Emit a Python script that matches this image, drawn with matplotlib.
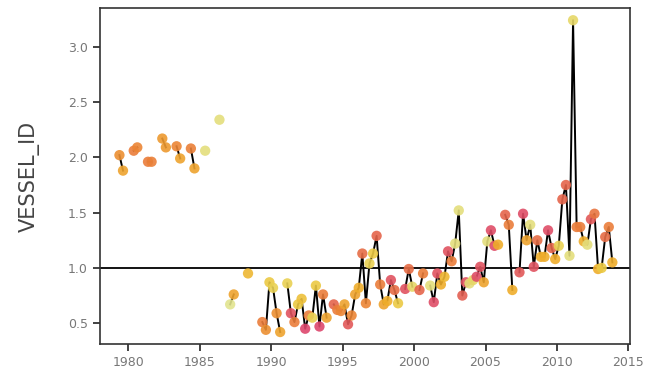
import numpy as np
import pandas as pd
import matplotlib
matplotlib.use("Agg")
import matplotlib.pyplot as plt
from matplotlib.colors import LinearSegmentedColormap

# quarterly observations (missing quarters break the line)
year = [1979, 1979, 1980, 1980, 1981, 1981, 1982, 1982, 1983, 1983,
        1984, 1984, 1985, 1986, 1987, 1987, 1988,
        1989, 1989, 1989, 1990, 1990, 1990,
        1991, 1991, 1991, 1991, 1992, 1992, 1992, 1992,
        1993, 1993, 1993, 1993, 1994, 1994, 1994,
        1995, 1995, 1995, 1995, 1996, 1996, 1996, 1996,
        1997, 1997, 1997, 1997, 1998, 1998, 1998, 1998,
        1999, 1999, 1999, 2000, 2000,
        2001, 2001, 2001, 2001, 2002, 2002, 2002, 2002,
        2003, 2003, 2003, 2003, 2004, 2004, 2004, 2004,
        2005, 2005, 2005, 2005, 2006, 2006, 2006,
        2007, 2007, 2007, 2008, 2008, 2008, 2008,
        2009, 2009, 2009, 2009, 2010, 2010, 2010, 2010,
        2011, 2011, 2011, 2011, 2012, 2012, 2012, 2012,
        2013, 2013, 2013, 2013]
quarter = [2, 3, 2, 3, 2, 3, 2, 3, 2, 3,
           2, 3, 2, 2, 1, 2, 2,
           2, 3, 4, 1, 2, 3,
           1, 2, 3, 4, 1, 2, 3, 4,
           1, 2, 3, 4, 2, 3, 4,
           1, 2, 3, 4, 1, 2, 3, 4,
           1, 2, 3, 4, 1, 2, 3, 4,
           2, 3, 4, 2, 3,
           1, 2, 3, 4, 1, 2, 3, 4,
           1, 2, 3, 4, 1, 2, 3, 4,
           1, 2, 3, 4, 2, 3, 4,
           2, 3, 4, 1, 2, 3, 4,
           1, 2, 3, 4, 1, 2, 3, 4,
           1, 2, 3, 4, 1, 2, 3, 4,
           1, 2, 3, 4]
vessel_id = [2.02, 1.88, 2.06, 2.09, 1.96, 1.96, 2.17, 2.09, 2.10, 1.99,
             2.08, 1.90, 2.06, 2.34, 0.67, 0.76, 0.95,
             0.51, 0.44, 0.87, 0.82, 0.59, 0.42,
             0.86, 0.59, 0.51, 0.67, 0.72, 0.45, 0.57, 0.55,
             0.84, 0.47, 0.76, 0.55, 0.67, 0.62, 0.61,
             0.67, 0.49, 0.57, 0.76, 0.82, 1.13, 0.68, 1.04,
             1.13, 1.29, 0.85, 0.67, 0.70, 0.89, 0.80, 0.68,
             0.81, 0.99, 0.83, 0.80, 0.95,
             0.84, 0.69, 0.95, 0.85, 0.92, 1.15, 1.06, 1.22,
             1.52, 0.75, 0.87, 0.86, 0.89, 0.92, 1.01, 0.87,
             1.24, 1.34, 1.20, 1.21, 1.48, 1.39, 0.80,
             0.96, 1.49, 1.25, 1.39, 1.01, 1.25, 1.10,
             1.10, 1.34, 1.18, 1.08, 1.20, 1.62, 1.75, 1.11,
             3.24, 1.37, 1.37, 1.24, 1.21, 1.44, 1.49, 0.99,
             1.00, 1.28, 1.37, 1.05]
shade = [0.50, 0.60, 0.40, 0.45, 0.40, 0.42, 0.55, 0.55, 0.45, 0.60,
         0.42, 0.60, 0.95, 0.95, 1.00, 0.60, 0.70,
         0.40, 0.50, 0.80, 0.85, 0.50, 0.60,
         0.85, 0.10, 0.40, 0.80, 0.75, 0.00, 0.40, 0.85,
         0.80, 0.00, 0.40, 0.60, 0.25, 0.40, 0.45,
         0.60, 0.15, 0.45, 0.60, 0.65, 0.30, 0.45, 0.85,
         0.80, 0.25, 0.40, 0.60, 0.65, 0.10, 0.30, 0.80,
         0.10, 0.30, 0.90, 0.25, 0.40,
         0.95, 0.05, 0.10, 0.65, 0.70, 0.10, 0.40, 0.95,
         0.95, 0.20, 0.10, 0.95, 0.90, 0.05, 0.10, 0.60,
         0.95, 0.05, 0.05, 0.65, 0.25, 0.40, 0.65,
         0.15, 0.05, 0.60, 0.95, 0.10, 0.30, 0.65,
         0.65, 0.05, 0.25, 0.65, 0.85, 0.25, 0.25, 0.95,
         0.90, 0.40, 0.40, 0.65, 0.95, 0.15, 0.35, 0.65,
         0.80, 0.30, 0.40, 0.65]

x_ticks = [1980, 1985, 1990, 1995, 2000, 2005, 2010, 2015]
y_ticks = [0.5, 1.0, 1.5, 2.0, 2.5, 3.0]

df = pd.DataFrame({"year": year, "quarter": quarter,
                   "value": vessel_id, "shade": shade})
df["t"] = df["year"] + (df["quarter"] - 0.5) / 4.0
df["idx"] = df["year"] * 4 + df["quarter"] - 1

# full quarterly grid so gaps become NaN breaks in the line
full = pd.DataFrame({"idx": np.arange(df["idx"].min(), df["idx"].max() + 1)})
full = full.merge(df, on="idx", how="left")
full["t"] = full["idx"] // 4 + (full["idx"] % 4 + 0.5) / 4.0

cmap = LinearSegmentedColormap.from_list(
    "heat", [(0.0, "#dd476d"), (0.25, "#e5654b"), (0.45, "#eb8535"),
             (0.65, "#efad2b"), (0.82, "#ebcd46"), (1.0, "#e1e48f")])

fig, ax = plt.subplots(figsize=(6.48, 3.85), dpi=100)
fig.subplots_adjust(left=0.154, right=0.972, top=0.979, bottom=0.106)

ax.axhline(1.0, color="black", lw=1.3, zorder=1)
ax.plot(full["t"], full["value"], color="black", lw=1.4, zorder=2)
ax.scatter(df["t"], df["value"], c=df["shade"], cmap=cmap, vmin=0, vmax=1,
           s=55, alpha=0.9, edgecolors="none", zorder=3)

ax.set_xlim(1978.0, 2015.1)
ax.set_ylim(0.31, 3.35)
ax.set_xticks(x_ticks)
ax.set_yticks(y_ticks)
ax.set_yticklabels([f"{v:.1f}" for v in y_ticks])
ax.tick_params(direction="out", length=5, width=1.2, color="#222",
               labelcolor="#777", labelsize=9)
for sp in ax.spines.values():
    sp.set_color("#333")
    sp.set_linewidth(1.2)
ax.set_ylabel("VESSEL_ID", fontsize=15, color="#444", labelpad=20)

fig.savefig("out.png", dpi=100)
